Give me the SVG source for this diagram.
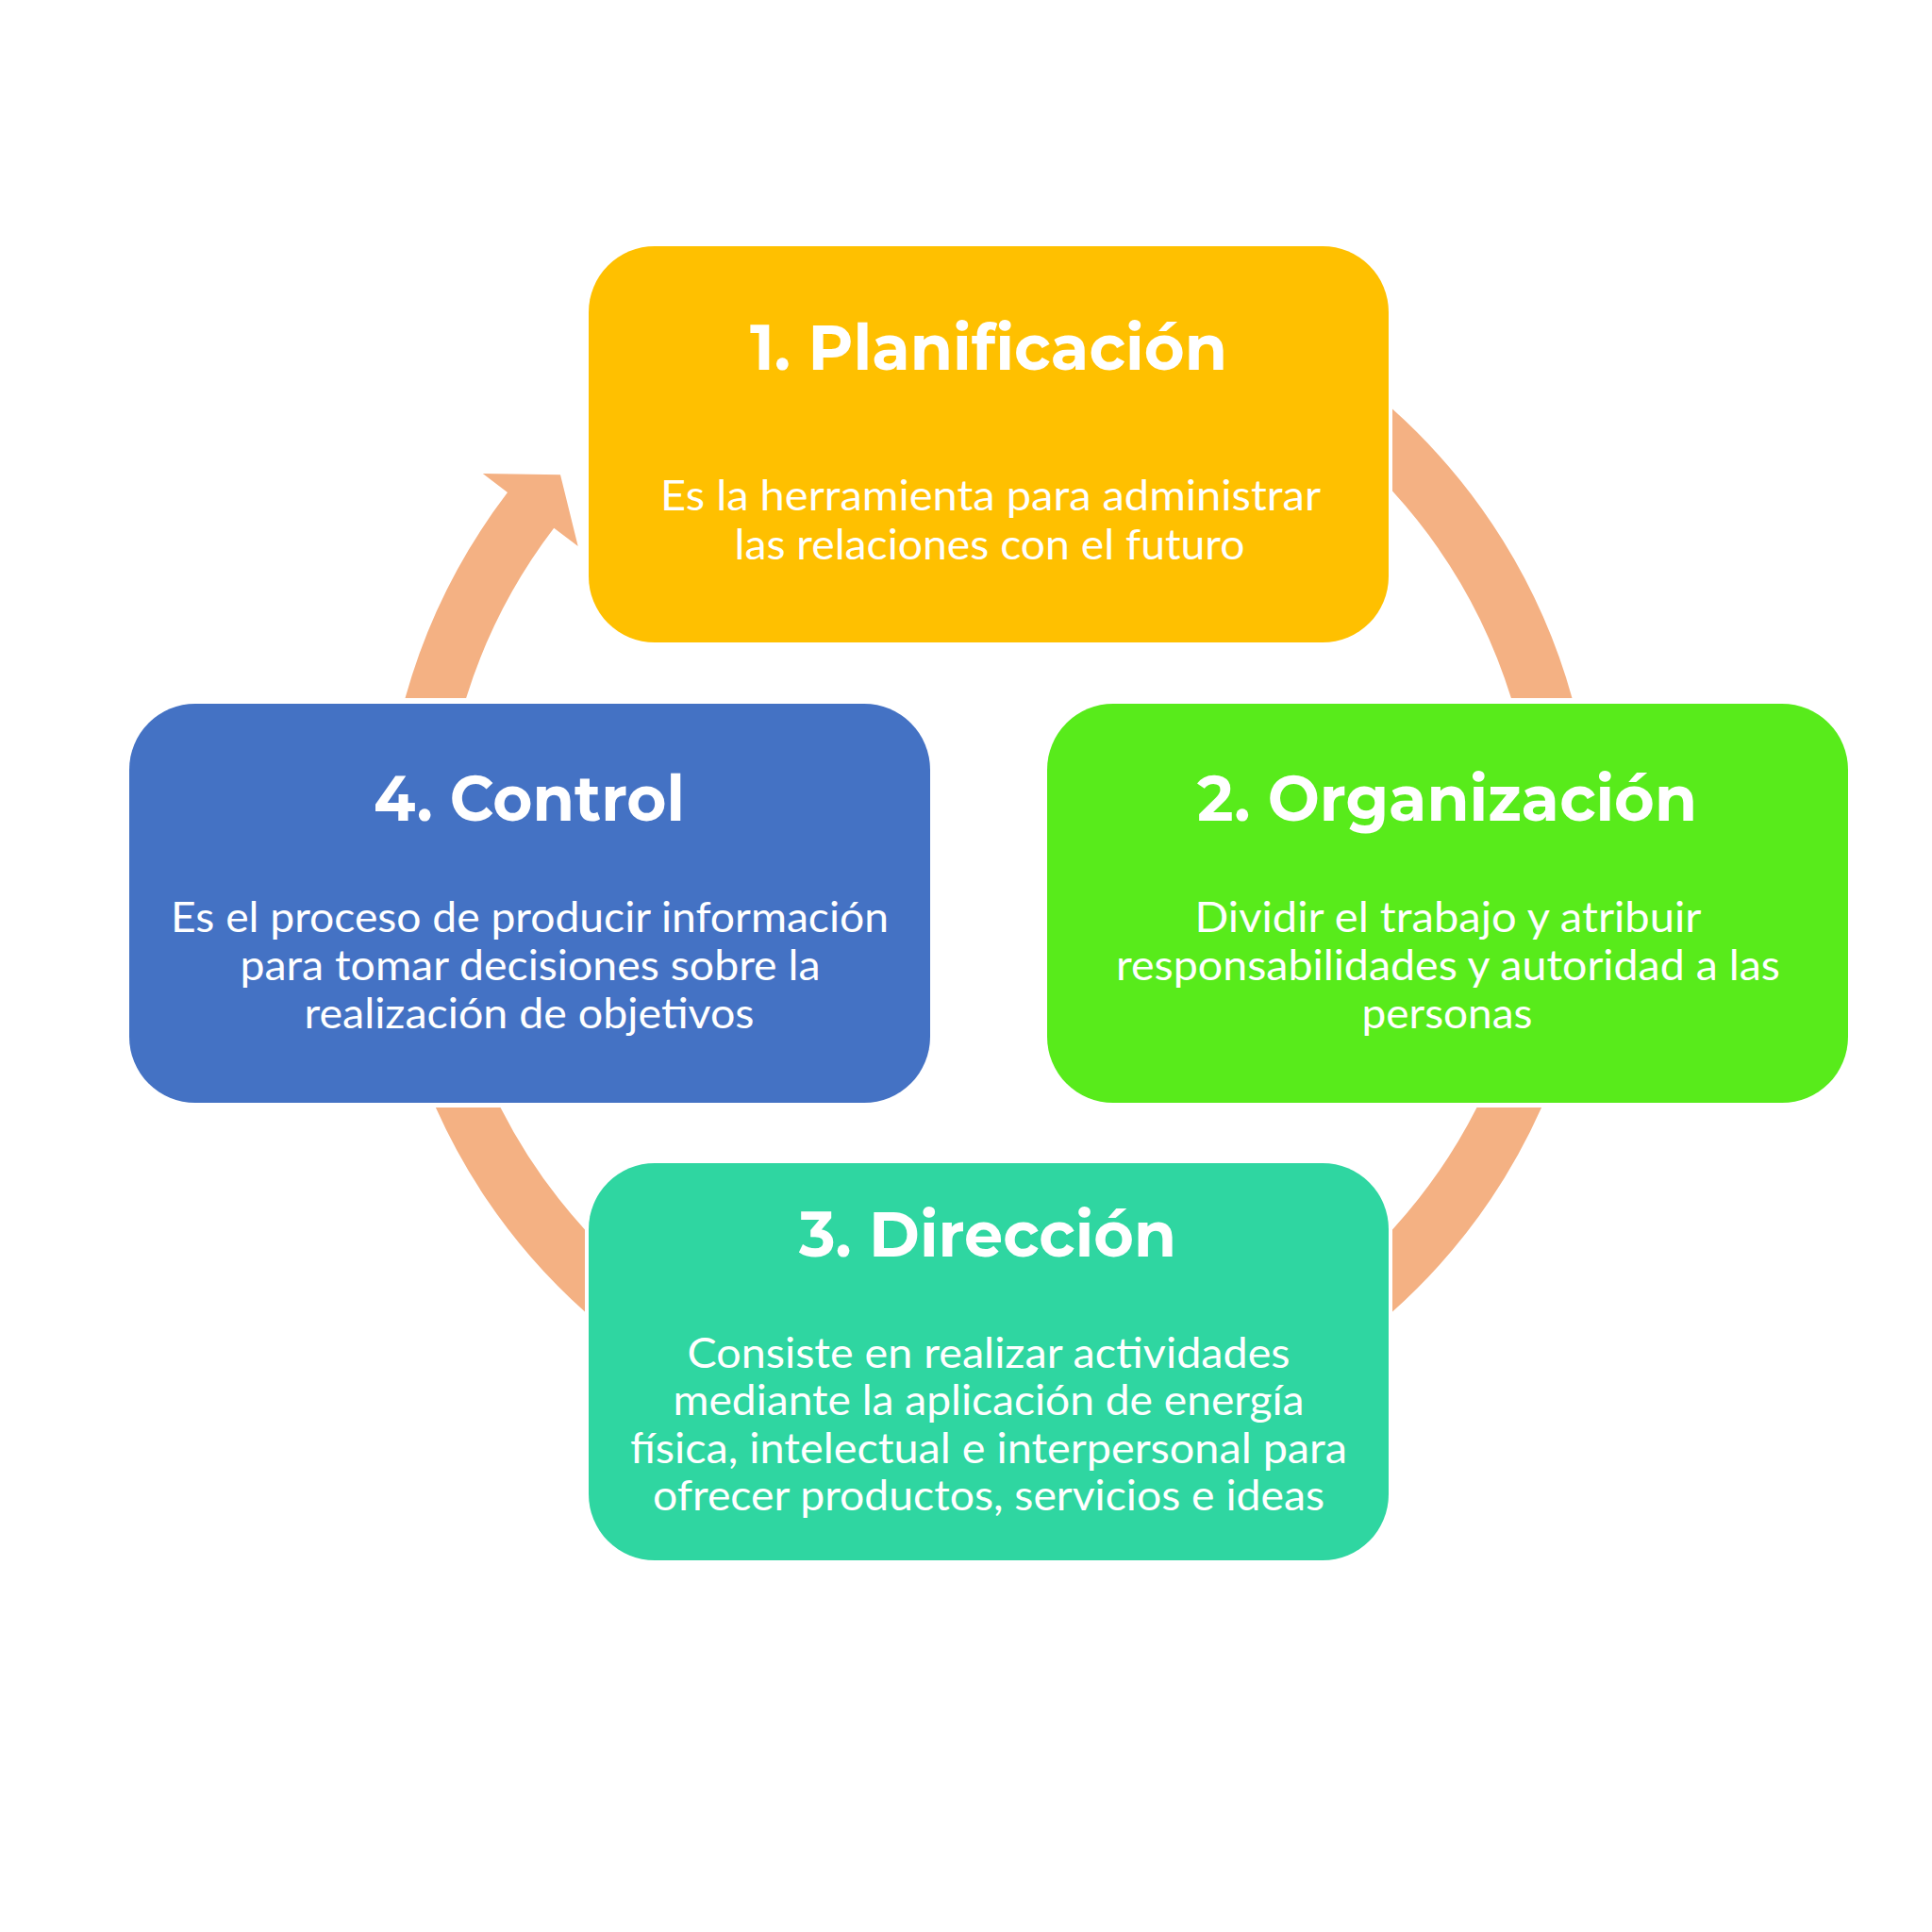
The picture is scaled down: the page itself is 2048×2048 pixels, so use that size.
<svg xmlns="http://www.w3.org/2000/svg" width="2048" height="2048" viewBox="0 0 2048 2048">
<style>
.ring{fill:#F4B183;}
.title{font-family:Montserrat,"Open Sans","Liberation Sans",sans-serif;font-weight:700;font-size:67px;fill:#ffffff;text-anchor:middle;}
.body{font-family:Lato,"Open Sans","Liberation Sans",sans-serif;font-weight:400;font-size:45px;fill:#ffffff;text-anchor:middle;}
</style>
<rect x="0" y="0" width="2048" height="2048" fill="#ffffff"/>
<g id="connectors">
<path class="ring" d="M1476,433.5 A642,642 0 0,1 1666.5,740 L1601.9,740 A580,580 0 0,0 1476,520.6 Z"/>
<path class="ring" d="M1634.1,1174 A642,642 0 0,1 1476,1390.5 L1476,1303.4 A580,580 0 0,0 1565.5,1174 Z"/>
<path class="ring" d="M620,1390.5 A642,642 0 0,1 461.9,1174 L530.5,1174 A580,580 0 0,0 620,1303.4 Z"/>
<path class="ring" d="M429.5,740 A642,642 0 0,1 538,522.1 L511.8,502 L594,503.2 L612.7,579.1 L587.2,559.7 A580,580 0 0,0 494.1,740 Z"/>
</g>
<g id="node1">
<rect x="624" y="261" width="848" height="420" rx="70" ry="70" fill="#FFC000"/>
<text class="title" x="1048" y="392" textLength="506" lengthAdjust="spacingAndGlyphs">1. Planificación</text>
<text class="body" x="1050" y="541" textLength="700" lengthAdjust="spacingAndGlyphs">Es la herramienta para administrar</text>
<text class="body" x="1049" y="593" textLength="541" lengthAdjust="spacingAndGlyphs">las relaciones con el futuro</text>
</g>
<g id="node2">
<rect x="1110" y="746" width="849" height="423" rx="70" ry="70" fill="#58EB1B"/>
<text class="title" x="1534" y="870" textLength="530" lengthAdjust="spacingAndGlyphs">2. Organización</text>
<text class="body" x="1535" y="988" textLength="537" lengthAdjust="spacingAndGlyphs">Dividir el trabajo y atribuir</text>
<text class="body" x="1535" y="1039" textLength="704" lengthAdjust="spacingAndGlyphs">responsabilidades y autoridad a las</text>
<text class="body" x="1534" y="1090" textLength="181" lengthAdjust="spacingAndGlyphs">personas</text>
</g>
<g id="node3">
<rect x="624" y="1233" width="848" height="421" rx="70" ry="70" fill="#2FD6A1"/>
<text class="title" x="1047" y="1332" textLength="400" lengthAdjust="spacingAndGlyphs">3. Dirección</text>
<text class="body" x="1048" y="1450" textLength="639" lengthAdjust="spacingAndGlyphs">Consiste en realizar actividades</text>
<text class="body" x="1048" y="1500" textLength="669" lengthAdjust="spacingAndGlyphs">mediante la aplicación de energía</text>
<text class="body" x="1048" y="1551" textLength="760" lengthAdjust="spacingAndGlyphs">física, intelectual e interpersonal para</text>
<text class="body" x="1048" y="1601" textLength="712" lengthAdjust="spacingAndGlyphs">ofrecer productos, servicios e ideas</text>
</g>
<g id="node4">
<rect x="137" y="746" width="849" height="423" rx="70" ry="70" fill="#4472C4"/>
<text class="title" x="561" y="870" textLength="330" lengthAdjust="spacingAndGlyphs">4. Control</text>
<text class="body" x="561.5" y="988" textLength="761" lengthAdjust="spacingAndGlyphs">Es el proceso de producir información</text>
<text class="body" x="562" y="1039" textLength="615" lengthAdjust="spacingAndGlyphs">para tomar decisiones sobre la</text>
<text class="body" x="561" y="1090" textLength="477" lengthAdjust="spacingAndGlyphs">realización de objetivos</text>
</g>
</svg>
